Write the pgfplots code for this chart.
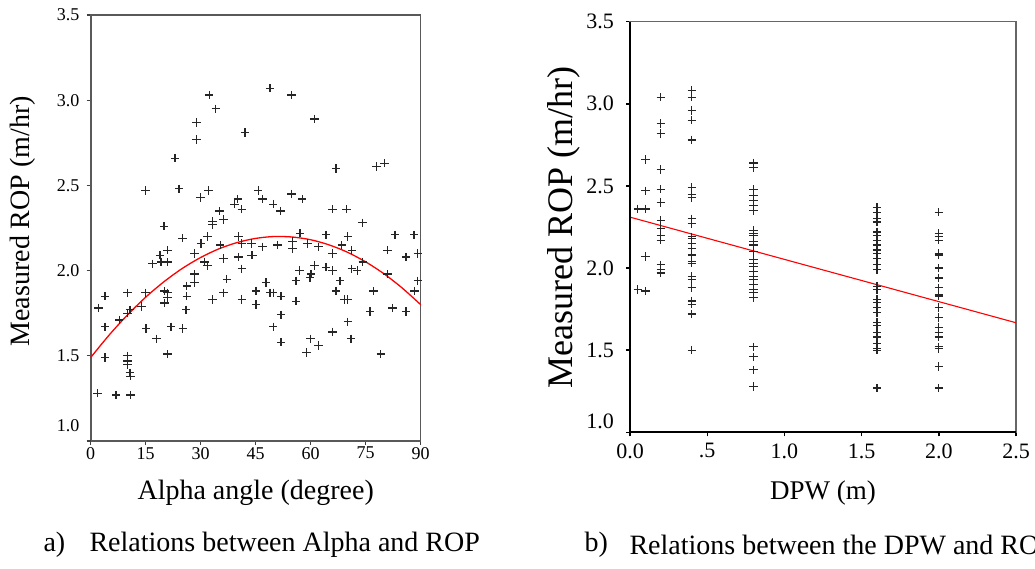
\documentclass[border=0pt]{standalone}
\usepackage{fontspec}
\setmainfont{Liberation Serif}
\usepackage{pgfplots}
\pgfplotsset{compat=1.18}
\begin{document}
\begin{tikzpicture}[x=1pt,y=1pt]
\path[use as bounding box] (0,0) rectangle (1035,569);
% ---------------- left panel ----------------
\begin{axis}[at={(90.7pt,128pt)}, anchor=south west, scale only axis,
  width=330pt, height=426pt,
  xmin=0, xmax=90, ymin=1, ymax=3.5,
  xtick={0,15,30,45,60,75,90}, xticklabels={0,15,30,45,60,75,90},
  ytick={1.5,2,2.5,3,3.5}, yticklabels={1.5,2.0,2.5,3.0,3.5},
  extra y ticks={1}, extra y tick labels={1.0},
  extra y tick style={yticklabel style={yshift=15pt}},
  tick align=outside, tick pos=left, major tick length=4pt,
  tick style={line width=1.2pt, black!75},
  axis line style={line width=1.6pt, black!65},
  ticklabel style={font=\fontsize{18}{20}\selectfont, inner sep=1pt},
  yticklabel style={xshift=-6pt},
  xticklabel style={yshift=-1pt},
  xlabel={Alpha angle (degree)}, ylabel={Measured ROP (m/hr)},
  label style={font=\fontsize{28}{30}\selectfont},
  xlabel style={at={(axis description cs:0.5,-0.122)}, anchor=center},
  ylabel style={at={(axis description cs:-0.205,0.516)}, anchor=center},
  clip=false]
\addplot[only marks, mark=+, mark size=4.2pt, mark options={line width=1.2pt, black!85}] coordinates {
(32.3,3.03)(34.1,2.95)(28.9,2.87)(28.9,2.77)(42.1,2.81)(23.0,2.66)(15.0,2.47)(24.1,2.48)(30.0,2.43)(32.1,2.47)(40.1,2.42)(39.2,2.39)(41.2,2.36)(35.1,2.35)(36.2,2.30)(33.2,2.29)(33.2,2.27)(45.7,2.47)(20.0,2.26)
(48.9,3.07)(54.8,3.03)(61.0,2.89)(66.9,2.60)(78.0,2.61)(80.1,2.63)(46.9,2.42)(49.8,2.39)(51.8,2.35)(54.8,2.45)(57.7,2.42)(66.0,2.36)(69.8,2.36)(74.1,2.28)
(25.0,2.19)(31.9,2.20)(30.1,2.16)(40.3,2.20)(41.2,2.16)(21.0,2.12)(18.9,2.09)(16.9,2.04)(19.2,2.05)(21.0,2.05)(28.3,2.10)(35.3,2.15)(31.0,2.05)(31.9,2.03)(36.2,2.07)(40.3,2.08)(44.2,2.09)(41.2,2.01)(28.3,1.98)(28.3,1.93)(37.1,1.95)(26.2,1.91)(26.2,1.85)(26.0,1.77)(33.2,1.83)(36.2,1.87)(41.2,1.83)(45.1,1.88)(45.1,1.80)(2.1,1.78)(3.9,1.85)(10.0,1.87)(15.0,1.87)(13.9,1.79)(10.7,1.77)(10.0,1.75)(7.8,1.71)(20.1,1.88)(20.1,1.81)(20.9,1.84)(21.0,1.87)(3.9,1.67)(15.1,1.66)(18.0,1.60)(21.9,1.67)(25.1,1.66)(20.9,1.51)(3.9,1.49)(10.0,1.50)(10.0,1.47)(10.0,1.45)(10.7,1.40)(10.9,1.38)(1.9,1.28)(6.9,1.27)(10.9,1.27)
(43.9,2.16)(46.9,2.14)(43.9,2.09)(51.0,2.15)(55.0,2.17)(55.0,2.13)(57.1,2.22)(59.1,2.16)(62.1,2.14)(64.2,2.21)(70.1,2.20)(68.5,2.15)(65.9,2.10)(71.2,2.12)(83.0,2.21)(88.2,2.21)(81.0,2.12)(89.2,2.10)(86.0,2.08)(74.2,2.05)(61.0,2.03)(56.9,2.00)(60.1,1.98)(64.2,2.02)(66.0,2.00)(71.2,2.01)(72.7,2.00)(81.0,1.98)(56.0,1.94)(59.8,1.96)(68.0,1.94)(47.8,1.93)(89.2,1.94)(48.9,1.87)(49.8,1.87)(51.9,1.85)(56.0,1.82)(66.9,1.88)(69.2,1.83)(70.1,1.83)(77.1,1.88)(88.3,1.88)(51.9,1.74)(76.2,1.76)(82.3,1.78)(86.0,1.76)(49.8,1.67)(70.1,1.70)(66.0,1.64)(71.0,1.60)(51.9,1.58)(60.0,1.60)(62.1,1.56)(58.9,1.52)(79.1,1.51)
};
\addplot[red, line width=1.3pt, smooth] coordinates {
(0,1.490)(5,1.621)(10,1.739)(15,1.844)(20,1.935)(25,2.013)(30,2.077)(35,2.128)(40,2.165)(45,2.189)(50,2.200)(55,2.197)(60,2.181)(65,2.151)(70,2.108)(75,2.051)(80,1.981)(85,1.897)(90,1.800)
};
\end{axis}
% ---------------- right panel ----------------
\begin{axis}[at={(630pt,136.7pt)}, anchor=south west, scale only axis,
  width=386pt, height=410.6pt,
  xmin=0, xmax=2.5, ymin=1, ymax=3.5,
  xtick={0,0.5,1,1.5,2,2.5}, xticklabels={0.0,.5,1.0,1.5,2.0,2.5},
  ytick={1.5,2,2.5,3,3.5}, yticklabels={1.5,2.0,2.5,3.0,3.5},
  extra y ticks={1}, extra y tick labels={1.0},
  extra y tick style={yticklabel style={yshift=11pt}},
  tick align=outside, tick pos=left, major tick length=4pt,
  tick style={line width=1.4pt, black},
  axis line style={line width=1.5pt, black!60},
  ticklabel style={font=\fontsize{22}{24}\selectfont, inner sep=1pt},
  yticklabel style={xshift=-11pt},
  xticklabel style={yshift=-6pt},
  xlabel={DPW (m)}, ylabel={Measured ROP (m/hr)},
  xlabel style={font=\fontsize{27}{29}\selectfont, at={(axis description cs:0.5,-0.148)}, anchor=center},
  ylabel style={font=\fontsize{36}{38}\selectfont, at={(axis description cs:-0.171,0.499)}, anchor=center},
  clip=false]
\addplot[only marks, mark=+, mark size=4.2pt, mark options={line width=1.2pt, black!85}] coordinates {
(0.05,2.36)(0.05,1.87)
(0.1,2.36)(0.1,2.66)(0.1,2.47)(0.1,2.07)(0.1,1.86)
(0.2,3.04)(0.2,2.88)(0.2,2.82)(0.2,2.60)(0.2,2.48)(0.2,2.40)(0.2,2.29)(0.2,2.24)(0.2,2.20)(0.2,2.17)(0.2,2.02)(0.2,1.99)(0.2,1.97)
(0.4,3.08)(0.4,3.04)(0.4,2.96)(0.4,2.90)(0.4,2.78)(0.4,2.49)(0.4,2.45)(0.4,2.43)(0.4,2.30)(0.4,2.27)(0.4,2.19)(0.4,2.18)(0.4,2.15)(0.4,2.12)(0.4,2.08)(0.4,2.04)(0.4,2.03)(0.4,1.95)(0.4,1.93)(0.4,1.88)(0.4,1.80)(0.4,1.78)(0.4,1.72)(0.4,1.50)
(0.8,2.64)(0.8,2.61)(0.8,2.48)(0.8,2.44)(0.8,2.41)(0.8,2.38)(0.8,2.35)(0.8,2.23)(0.8,2.21)(0.8,2.20)(0.8,2.16)(0.8,2.14)(0.8,2.10)(0.8,2.05)(0.8,2.03)(0.8,2.01)(0.8,1.98)(0.8,1.95)(0.8,1.93)(0.8,1.90)(0.8,1.87)(0.8,1.85)(0.8,1.82)(0.8,1.52)(0.8,1.46)(0.8,1.38)(0.8,1.28)
(1.6,2.37)(1.6,2.34)(1.6,2.30)(1.6,2.28)(1.6,2.22)(1.6,2.20)(1.6,2.17)(1.6,2.14)(1.6,2.11)(1.6,2.09)(1.6,2.06)(1.6,2.02)(1.6,1.99)(1.6,1.89)(1.6,1.87)(1.6,1.81)(1.6,1.79)(1.6,1.76)(1.6,1.73)(1.6,1.67)(1.6,1.65)(1.6,1.61)(1.6,1.58)(1.6,1.54)(1.6,1.51)(1.6,1.50)(1.6,1.27)
(2.0,2.34)(2.0,2.21)(2.0,2.19)(2.0,2.17)(2.0,2.09)(2.0,2.08)(2.0,2.00)(2.0,1.94)(2.0,1.88)(2.0,1.84)(2.0,1.83)(2.0,1.76)(2.0,1.70)(2.0,1.64)(2.0,1.61)(2.0,1.58)(2.0,1.52)(2.0,1.51)(2.0,1.40)(2.0,1.27)
};
\addplot[red, line width=1.1pt] coordinates {(0,2.31)(2.5,1.667)};
\draw[black, line width=1.6pt] (rel axis cs:0,1) -- (rel axis cs:0,0) -- (rel axis cs:1,0);
\end{axis}
% ---------------- captions ----------------
\node[anchor=west, font=\fontsize{28}{30}\selectfont] at (40,24) {a)};
\node[anchor=west, font=\fontsize{28}{30}\selectfont] at (86,24) {Relations between Alpha and ROP};
\node[anchor=west, font=\fontsize{28}{30}\selectfont] at (581,24) {b)};
\node[anchor=west, font=\fontsize{28}{30}\selectfont] at (626,24) {Relations between the DPW and ROP};
\end{tikzpicture}
\end{document}
